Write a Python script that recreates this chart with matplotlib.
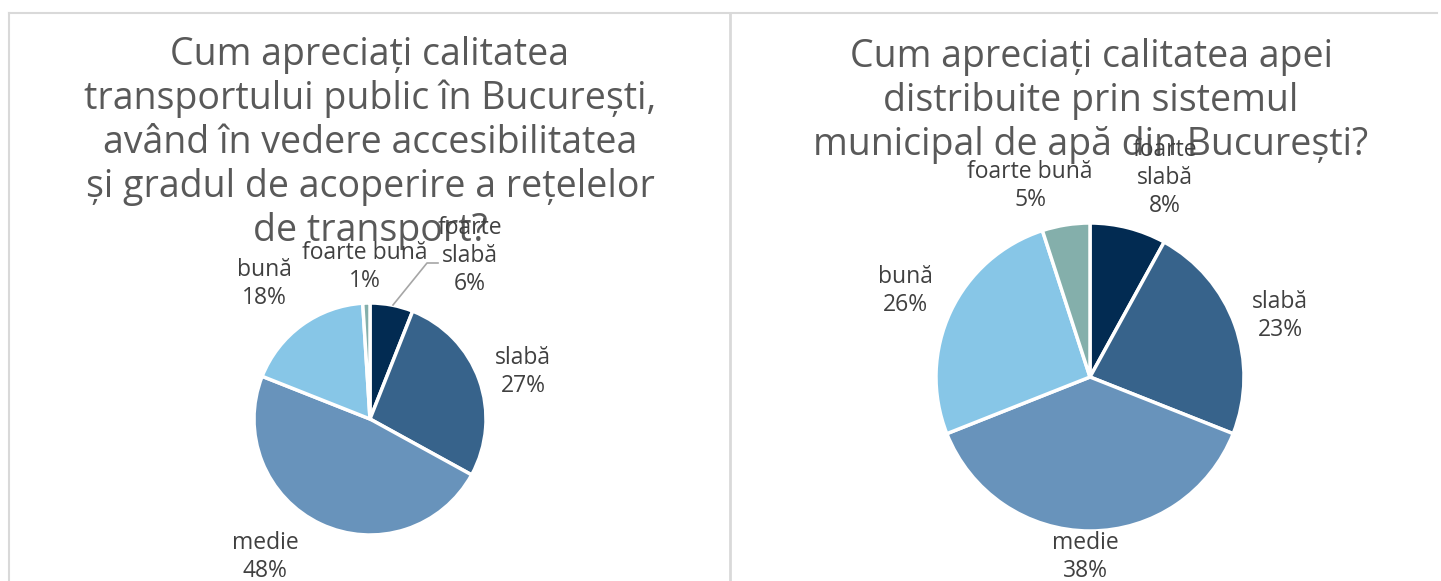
import matplotlib.pyplot as plt
from matplotlib.lines import Line2D

plt.rcParams['font.family'] = ['Open Sans', 'DejaVu Sans']

# date
categorii = ['foarte slabă', 'slabă', 'medie', 'bună', 'foarte bună']
transport = [6, 27, 48, 18, 1]
apa = [8, 23, 38, 26, 5]
culori = ['#022b52', '#37638b', '#6893bb', '#87c6e7', '#84afab']

titlu_transport = ('Cum apreciați calitatea\ntransportului public în București,\n'
                   'având în vedere accesibilitatea\nși gradul de acoperire a rețelelor\n'
                   'de transport?')
titlu_apa = ('Cum apreciați calitatea apei\ndistribuite prin sistemul\n'
             'municipal de apă din București?')

W, H = 1441, 581
fig = plt.figure(figsize=(W / 100, H / 100), dpi=100)


def px(x, y):
    return x / W, 1 - y / H


def pie_axes(cx, cy, r):
    ax = fig.add_axes([(cx - r) / W, (H - cy - r) / H, 2 * r / W, 2 * r / H])
    return ax


# chenare
gri = '#d9d9d9'
fig.add_artist(Line2D([9 / W, 1437 / W], [1 - 12.5 / H] * 2, color=gri, lw=1.5))
fig.add_artist(Line2D([9 / W] * 2, [0, 1 - 12.5 / H], color=gri, lw=1.5))
fig.add_artist(Line2D([730 / W] * 2, [0, 1 - 12.5 / H], color=gri, lw=2))

# titluri
fig.text(*px(370, 143), titlu_transport, ha='center', va='center', fontsize=27,
         color='#595959', linespacing=1.2)
fig.text(*px(1091, 101), titlu_apa, ha='center', va='center', fontsize=27,
         color='#595959', linespacing=1.2)

# plăcinte
ax1 = pie_axes(370, 419, 116)
ax1.pie(transport, colors=culori, startangle=90, counterclock=False, radius=1,
        wedgeprops=dict(edgecolor='white', linewidth=2.5))
ax1.set_xlim(-1, 1)
ax1.set_ylim(-1, 1)

ax2 = pie_axes(1090, 377, 154)
ax2.pie(apa, colors=culori, startangle=90, counterclock=False, radius=1,
        wedgeprops=dict(edgecolor='white', linewidth=2.5))
ax2.set_xlim(-1, 1)
ax2.set_ylim(-1, 1)

# etichete
lbl = dict(ha='center', va='center', fontsize=16.5, color='#404040', linespacing=1.22)
et_transport = [(470, 256), (523, 372), (265, 557), (264, 284), (365, 267)]
et_apa = [(1165, 178), (1280, 316), (1085, 557), (905, 291), (1030, 186)]

for (x, y), c, v in zip(et_transport, categorii, transport):
    nume = 'foarte\nslabă' if c == 'foarte slabă' else c
    fig.text(*px(x, y), f'{nume}\n{v}%', **lbl)
for (x, y), c, v in zip(et_apa, categorii, apa):
    nume = 'foarte\nslabă' if c == 'foarte slabă' else c
    fig.text(*px(x, y), f'{nume}\n{v}%', **lbl)

# linie de legătură
fig.add_artist(Line2D([393 / W, 427 / W, 438 / W],
                      [1 - 305 / H, 1 - 263 / H, 1 - 263 / H],
                      color='#a6a6a6', lw=1.2))

fig.savefig('out.png', dpi=100, facecolor='white')
